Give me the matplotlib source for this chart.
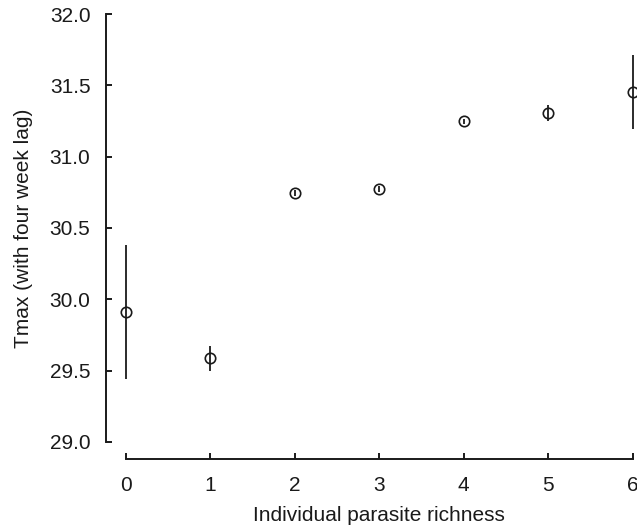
import matplotlib
matplotlib.use('agg')

import matplotlib.pyplot as plt

# mean Tmax (four week lag) per individual parasite richness, with error bars
richness = [0, 1, 2, 3, 4, 5, 6]
tmax_mean = [29.91, 29.585, 30.745, 30.772, 31.247, 31.305, 31.455]
tmax_err = [0.47, 0.09, 0.02, 0.02, 0.02, 0.055, 0.26]

x_ticks = [0, 1, 2, 3, 4, 5, 6]
y_ticks = [29.0, 29.5, 30.0, 30.5, 31.0, 31.5, 32.0]

plt.rcParams['font.family'] = ['Liberation Sans', 'DejaVu Sans']

fig = plt.figure(figsize=(6.37, 5.28), dpi=100)
# axes deliberately runs past the right/top edge, like the cropped original
ax = fig.add_axes([0.166, 0.1307, 0.859, 0.875])

ax.errorbar(richness, tmax_mean, yerr=tmax_err, fmt='o', mfc='none',
            mec='#1a1a1a', ecolor='#1a1a1a', ms=7.5, mew=1.2, elinewidth=1.3,
            capsize=0, clip_on=False, zorder=3)

ax.set_xlim(-0.24, 6.24)
ax.set_ylim(28.88, 32.12)
ax.set_xticks(x_ticks)
ax.set_yticks(y_ticks)
ax.set_xticklabels([str(v) for v in x_ticks])
ax.set_yticklabels(['%.1f' % v for v in y_ticks])

for side in ['top', 'right']:
    ax.spines[side].set_visible(False)
ax.spines['left'].set_bounds(29.0, 32.0)
ax.spines['bottom'].set_bounds(0, 6)
for side in ['left', 'bottom']:
    ax.spines[side].set_linewidth(1.4)
    ax.spines[side].set_color('#1a1a1a')

ax.tick_params(direction='in', length=4, width=1.4, color='#1a1a1a',
               labelsize=15, labelcolor='#1a1a1a')
ax.tick_params(axis='x', pad=12)
ax.tick_params(axis='y', pad=11)

ax.set_xlabel('Individual parasite richness', fontsize=15, color='#1a1a1a',
              labelpad=8)
ax.set_ylabel('Tmax (with four week lag)', fontsize=15, color='#1a1a1a',
              labelpad=12)

fig.savefig('out.png', dpi=100)
